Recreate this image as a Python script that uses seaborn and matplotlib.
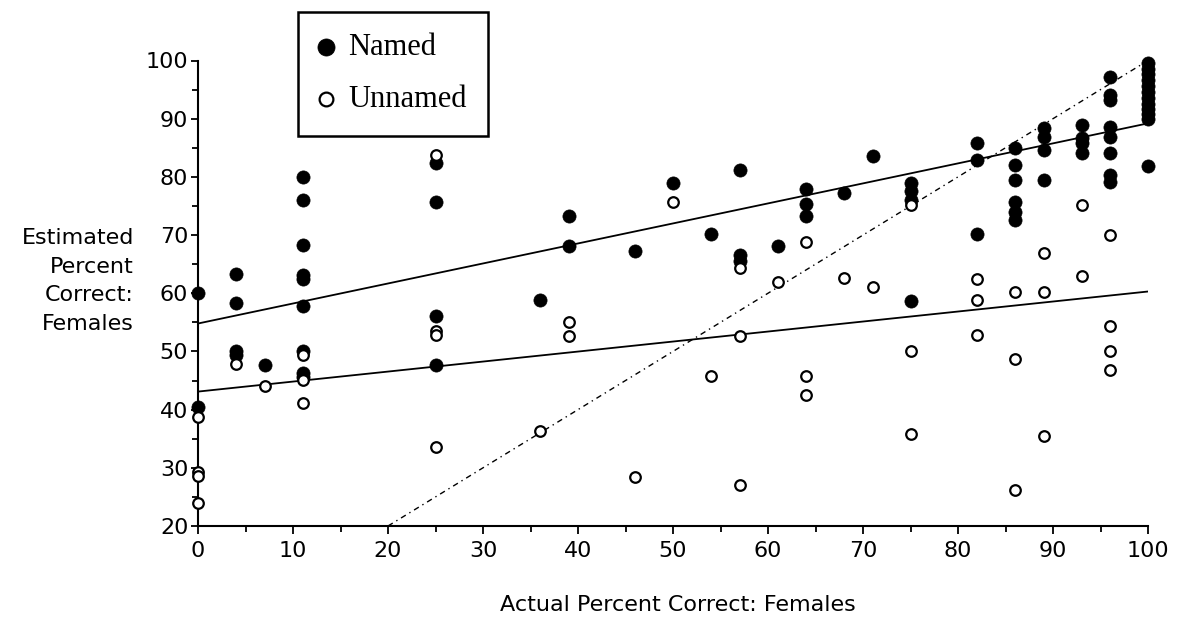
import numpy as np
import pandas as pd
import seaborn as sns
import matplotlib.pyplot as plt

# named (filled) points: actual % correct vs estimated % correct
named_x = [0, 0,
           4, 4, 4, 4,
           7,
           11, 11, 11, 11, 11, 11, 11, 11, 11,
           25, 25, 25, 25,
           36,
           39, 39,
           46,
           50,
           54,
           57, 57, 57,
           61,
           64, 64, 64,
           68,
           71,
           75, 75, 75, 75,
           82, 82, 82,
           86, 86, 86, 86, 86, 86,
           89, 89, 89, 89,
           93, 93, 93, 93,
           96, 96, 96, 96, 96, 96, 96, 96,
           100, 100, 100, 100, 100, 100, 100, 100, 100, 100, 100, 100]
named_y = [60.1, 40.5,
           63.3, 58.4, 50.1, 49.4,
           47.7,
           79.9, 76.0, 68.3, 63.1, 62.5, 57.8, 50.1, 46.3, 45.6,
           82.3, 75.6, 56.1, 47.7,
           58.8,
           73.3, 68.2,
           67.3,
           78.9,
           70.1,
           81.2, 66.6, 65.6,
           68.2,
           77.9, 75.3, 73.3,
           77.2,
           83.6,
           79.0, 77.6, 76.0, 58.7,
           85.9, 82.9, 70.1,
           84.9, 82.0, 79.5, 75.7, 74.0, 72.6,
           88.4, 86.9, 84.6, 79.5,
           88.9, 86.6, 85.8, 84.1,
           97.2, 94.1, 93.2, 88.6, 86.9, 84.1, 80.3, 79.2,
           99.6, 98.6, 97.6, 96.6, 95.6, 94.6, 93.6, 92.6, 91.6, 90.8, 90.0, 81.8]

# unnamed (open) points
unnamed_x = [0, 0, 0, 0,
             4,
             7,
             11, 11, 11,
             25, 25, 25, 25,
             36,
             39, 39,
             46,
             50,
             54,
             57, 57, 57,
             61,
             64, 64, 64,
             68,
             71,
             75, 75, 75,
             82, 82, 82,
             86, 86, 86,
             89, 89, 89,
             93, 93,
             96, 96, 96, 96]
unnamed_y = [38.7, 29.2, 28.6, 23.9,
             47.9,
             44.0,
             49.4, 45.1, 41.2,
             83.8, 53.5, 52.9, 33.6,
             36.3,
             55.0, 52.7,
             28.5,
             75.7,
             45.8,
             64.3, 52.7, 27.1,
             61.9,
             68.8, 45.8, 42.5,
             62.6,
             61.1,
             75.2, 50.0, 35.8,
             62.4, 58.8, 52.8,
             60.3, 48.7, 26.2,
             66.9, 60.3, 35.4,
             75.2, 62.9,
             70.0, 54.3, 50.0, 46.8]

# fitted lines: intercept, slope
named_fit = [54.8, 0.344]
unnamed_fit = [43.1, 0.172]
ident_x = [20, 100]   # perfect-accuracy line y = x

named_df = pd.DataFrame({'actual': named_x, 'estimated': named_y})
unnamed_df = pd.DataFrame({'actual': unnamed_x, 'estimated': unnamed_y})

sns.set_style('white')
plt.rcParams['font.family'] = ['DejaVu Sans']
plt.rcParams['text.color'] = 'black'
plt.rcParams['axes.labelcolor'] = 'black'
plt.rcParams['xtick.color'] = 'black'
plt.rcParams['ytick.color'] = 'black'

fig = plt.figure(figsize=(11.79, 6.17), dpi=100)
ax = fig.add_axes([198/1179, 1-526/617, 950/1179, (526-60.5)/617])

fx = np.array([0, 100])
ax.plot(fx, named_fit[0] + named_fit[1]*fx, color='black', lw=1.3, zorder=2)
ax.plot(fx, unnamed_fit[0] + unnamed_fit[1]*fx, color='black', lw=1.3, zorder=2)
ax.plot(ident_x, ident_x, color='black', lw=1.0, ls=(0, (4, 3, 1, 3)), zorder=2)

sns.scatterplot(data=named_df, x='actual', y='estimated', ax=ax, color='black',
                s=90, edgecolor='black', linewidth=0.5, marker='o', label='Named',
                clip_on=False, zorder=3)
sns.scatterplot(data=unnamed_df, x='actual', y='estimated', ax=ax, facecolor='white',
                s=58, edgecolor='black', linewidth=1.6, marker='o', label='Unnamed',
                clip_on=False, zorder=4)

ax.set_xlim(0, 100)
ax.set_ylim(20, 100)
ax.set_xticks(np.arange(0, 101, 10))
ax.set_yticks(np.arange(20, 101, 10))
ax.set_xticks(np.arange(5, 100, 10), minor=True)
ax.set_yticks(np.arange(25, 100, 10), minor=True)
ax.tick_params(axis='both', which='major', direction='out', length=6, width=1.3,
               color='black', labelsize=16, labelcolor='black')
ax.tick_params(axis='x', which='major', pad=5)
ax.tick_params(axis='y', which='major', pad=2, length=5)
ax.tick_params(axis='both', which='minor', direction='out', length=4, width=1.3, color='black')
ax.tick_params(bottom=True, left=True, which='both')

for s in ['top', 'right']:
    ax.spines[s].set_visible(False)
for s in ['left', 'bottom']:
    ax.spines[s].set_color('black')
    ax.spines[s].set_linewidth(1.5)

ax.set_xlabel('')
ax.set_ylabel('')
fig.text(678/1179, 1-605/617, 'Actual Percent Correct: Females', ha='center', va='center',
         fontsize=16, color='black')
fig.text(134/1179, 1-281/617, 'Estimated\nPercent\nCorrect:\nFemales', ha='right',
         va='center', fontsize=16, linespacing=1.55, multialignment='right', color='black')

leg = ax.legend(loc='upper left', bbox_to_anchor=(298/1179, 1-12/617),
                bbox_transform=fig.transFigure, borderaxespad=0, frameon=True,
                fancybox=False, edgecolor='black', framealpha=1,
                prop={'family': 'Liberation Serif', 'size': 22},
                handletextpad=0.54, handlelength=0.4, labelspacing=0.75,
                borderpad=0.7, markerscale=1.3)
leg.get_frame().set_linewidth(1.8)
for t in leg.get_texts():
    t.set_color('black')

fig.savefig('out.png', dpi=100)
